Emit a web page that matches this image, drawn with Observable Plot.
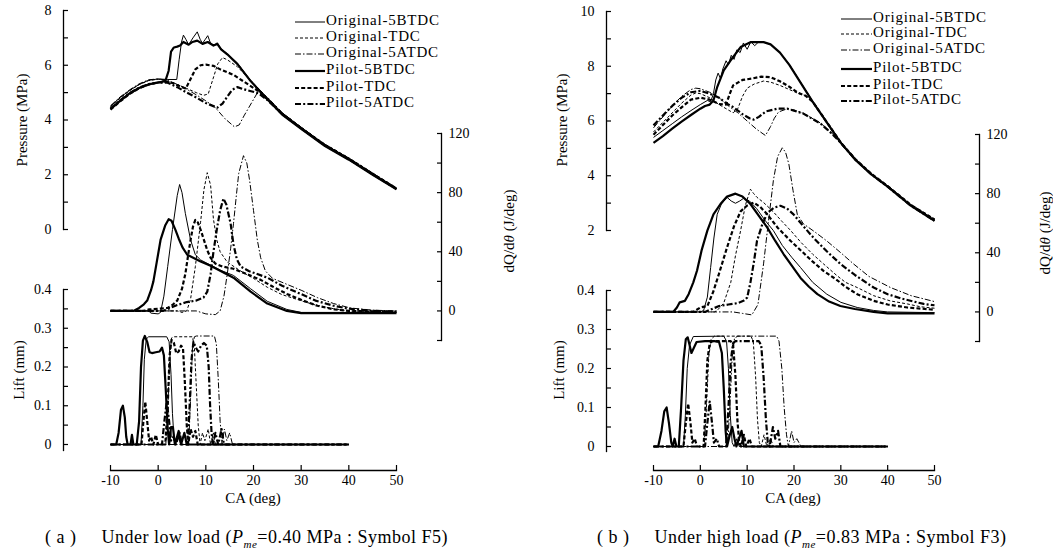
<!DOCTYPE html>
<html><head><meta charset="utf-8">
<script src="https://cdn.jsdelivr.net/npm/d3@7"></script>
<script src="https://cdn.jsdelivr.net/npm/@observablehq/plot@0.6"></script>
<style>
body{margin:0;background:#fff;}
#page{position:relative;width:1053px;height:551px;overflow:hidden;font-family:"Liberation Serif","DejaVu Serif",serif;color:#000;background:#fff;}
.lab{position:absolute;white-space:nowrap;font-size:15px;line-height:1;}
.rot{transform:translate(-50%,-50%) rotate(-90deg);}
.cen{transform:translate(-50%,-50%);}
.leg{position:absolute;font-size:15px;letter-spacing:0.8px;white-space:nowrap;line-height:1;}
.cap{position:absolute;font-size:18px;letter-spacing:0.5px;white-space:nowrap;line-height:1;}
</style></head><body><div id="page"></div>
<script>
// ---------- labels ----------
const seriesKeys = ["O5B","OT","O5A","P5B","PT","P5A"];
const seriesNames = ["Original-5BTDC","Original-TDC","Original-5ATDC","Pilot-5BTDC","Pilot-TDC","Pilot-5ATDC"];
const xTicks = [-10,0,10,20,30,40,50];

// ---------- panel (a) : pressure (MPa) ----------
const aP_O5B=[[-10,4.5],[-8,4.82],[-6,5.08],[-4,5.3],[-2,5.45],[0,5.5],[2,5.48],[3.9,5.48],[4.4,6.2],[4.9,6.85],[5.3,7.1],[5.8,6.95],[6.4,6.75],[7.3,7.0],[8.2,7.22],[8.8,6.95],[9.3,6.8],[9.9,6.95],[10.4,7.08],[11,6.8],[11.6,6.72],[12.4,6.82],[13.2,6.6],[14.5,6.42],[16.6,6.08],[19.4,5.45],[23,4.78],[26,4.25],[30,3.72],[35,3.1],[40,2.6],[45,2.05],[50,1.5]];
const aP_OT=[[-10,4.48],[-8,4.8],[-6,5.07],[-4,5.29],[-2,5.44],[0,5.49],[2,5.42],[4,5.3],[6,5.15],[8,5.0],[9.5,4.9],[10.5,4.95],[11.5,5.5],[12.5,6.05],[13.5,6.28],[14.5,6.2],[16.6,5.95],[19.4,5.45],[23,4.8],[26,4.27],[30,3.74],[35,3.12],[40,2.62],[45,2.07],[50,1.52]];
const aP_O5A=[[-10,4.52],[-8,4.84],[-6,5.1],[-4,5.32],[-2,5.47],[0,5.5],[2,5.45],[4,5.3],[6,5.12],[8,4.92],[10,4.7],[12,4.45],[14,4.05],[16,3.75],[17,3.82],[18,4.15],[19,4.45],[20,4.75],[21,5.05],[23,4.82],[26,4.27],[30,3.73],[35,3.1],[40,2.6],[45,2.05],[50,1.5]];
const aP_P5B=[[-10,4.4],[-8,4.7],[-6,4.97],[-4,5.17],[-2,5.3],[0,5.37],[1.5,5.42],[2.2,5.8],[2.7,6.5],[3.3,6.65],[4,6.68],[4.6,6.72],[5.3,6.85],[6.4,6.75],[7.2,6.85],[8.2,6.9],[9.3,6.78],[10.4,6.85],[11.6,6.72],[12.4,6.78],[13.2,6.58],[14.5,6.4],[16.6,6.05],[19.4,5.42],[23,4.74],[26,4.2],[30,3.68],[35,3.05],[40,2.55],[45,2.0],[50,1.47]];
const aP_PT=[[-10,4.38],[-8,4.68],[-6,4.95],[-4,5.16],[-2,5.3],[0,5.37],[1.5,5.4],[3,5.35],[5,5.2],[5.8,5.15],[6.8,5.5],[7.8,5.85],[8.9,6.0],[10,6.02],[11.6,5.98],[13,5.85],[15.8,5.65],[18,5.4],[21.5,5.0],[23,4.75],[26,4.23],[30,3.7],[35,3.08],[40,2.58],[45,2.03],[50,1.5]];
const aP_P5A=[[-10,4.42],[-8,4.72],[-6,4.98],[-4,5.18],[-2,5.31],[0,5.37],[2,5.36],[4,5.2],[6,5.0],[8,4.82],[10,4.62],[12.4,4.45],[13.5,4.6],[14.5,4.85],[15.5,5.1],[16.6,5.2],[18,5.12],[19.5,5.05],[21,4.98],[23,4.72],[26,4.22],[30,3.7],[35,3.07],[40,2.57],[45,2.02],[50,1.48]];

// ---------- panel (a) : dQ/dθ (J/deg) ----------
const aQ_O5B=[[-10,0],[-2,0],[-1.5,-1.5],[0,-2],[0.5,-1],[1.2,10],[2,30],[3,55],[4,78],[4.5,85.5],[5,80],[5.7,66],[6.8,48],[7.8,38],[8.9,34.5],[11,31],[13.1,27.5],[15.8,24],[19.4,15],[22.9,6.5],[27,1],[30,-1],[50,-1]];
const aQ_OT=[[-10,0],[4,0],[5,-1],[6,0],[6.8,8],[7.8,30],[8.9,60],[9.6,82],[10.3,93.5],[11,85],[11.6,62],[12.3,48],[13,40],[14.5,33],[17.3,27],[20,22],[22.9,16],[26,11],[29.9,7],[33,4],[36.8,1.5],[40,0],[50,-1]];
const aQ_O5A=[[-10,0],[8,0],[10,-2],[12,-2.5],[13,0],[13.8,10],[14.5,25],[15.2,42],[15.8,59],[16.4,78],[16.9,93],[17.9,105],[18.6,100],[19.2,88],[20,68],[20.8,48],[21.5,36],[22.5,27],[24,22],[27,18],[30,14],[33.4,9],[36.8,5],[40.3,2],[45,0.5],[50,0]];
const aQ_P5B=[[-10,0],[-5.2,0],[-4,2],[-3,4.5],[-2.3,7],[-1.5,14],[-1,20],[-0.3,33],[0.5,48],[1.5,58],[2.2,62],[2.8,61],[3.6,55],[4.3,49],[5.1,43],[6.1,38],[8.9,33.5],[11,30.5],[13.1,27],[15.8,22.5],[19.4,13],[22.9,5],[27,0],[30,-1.5],[50,-1.5]];
const aQ_PT=[[-10,0],[-3,0],[-2,1],[0,1.5],[2,2],[3,4],[4,7],[5,15],[5.7,25],[6.3,38],[6.8,48],[7.3,57],[7.8,61.5],[8.3,60],[8.9,55],[9.6,48],[10.3,41],[11,36],[12,32],[13.5,30],[15.8,28.5],[18.5,25],[21.5,21],[24,16.5],[27,11.5],[30,7.5],[33.4,3.5],[37,1],[40,0],[50,-0.5]];
const aQ_P5A=[[-10,0],[1,0],[2.5,2],[4,4],[6,6],[8,7],[9.5,9],[10.3,13],[11,25],[11.6,40],[12.3,55],[13,68],[13.7,76],[14.3,72],[15.2,59],[15.8,45],[16.5,35],[17.3,30],[19,27],[22.9,22.5],[26,17],[29.9,11.5],[33,7],[36.8,3.5],[40,1.5],[45,0],[50,-0.5]];

// ---------- panel (a) : needle lift (mm) ----------
const aL_O5B=[[-10,0],[-3.6,0],[-3.2,0.1],[-2.9,0.22],[-2.5,0.272],[-2,0.278],[1.8,0.278],[2.3,0.265],[2.7,0.18],[3,0.08],[3.3,0.02],[3.6,0],[4.2,0.02],[4.8,0],[40,0]];
const aL_OT=[[-10,0],[1.6,0],[2,0.08],[2.4,0.22],[2.8,0.275],[3.3,0.278],[7.2,0.278],[7.6,0.25],[8,0.15],[8.4,0.05],[8.8,0],[9.3,0.03],[9.8,0.01],[10.5,0.04],[11,0],[11.6,0.03],[12,0],[40,0]];
const aL_O5A=[[-10,0],[6.4,0],[6.8,0.12],[7.2,0.25],[7.6,0.278],[8,0.28],[11.8,0.28],[12.2,0.26],[12.6,0.17],[13,0.06],[13.4,0],[13.9,0.04],[14.4,0.01],[15,0.03],[15.6,0],[40,0]];
const aL_P5B=[[-10,0],[-8.8,0],[-8.3,0.03],[-7.8,0.09],[-7.4,0.1],[-7,0.07],[-6.7,0.02],[-6.4,0],[-5.8,0],[-5.5,0.025],[-5.2,0],[-4.5,0],[-4,0.06],[-3.6,0.2],[-3.2,0.268],[-2.8,0.28],[-2.3,0.265],[-1.8,0.238],[-1.3,0.236],[-0.5,0.238],[0.3,0.24],[0.8,0.25],[1.2,0.23],[1.6,0.14],[2,0.04],[2.3,0],[2.7,0.045],[3.1,0.045],[3.5,0],[4.3,0.035],[4.8,0],[5.5,0.03],[6,0],[40,0]];
const aL_PT=[[-10,0],[-3.5,0],[-3.1,0.06],[-2.7,0.11],[-2.3,0.06],[-1.9,0.01],[-1.5,0.02],[-1,0],[-0.5,0.025],[0,0],[1.5,0],[2,0.1],[2.4,0.23],[2.8,0.27],[3.3,0.262],[3.8,0.235],[4.3,0.24],[4.8,0.255],[5.2,0.25],[5.6,0.16],[6,0.05],[6.3,0],[6.8,0.04],[7.3,0.02],[7.8,0.035],[8.3,0],[40,0]];
const aL_P5A=[[-10,0],[0.8,0],[1.3,0.06],[1.8,0.11],[2.3,0.06],[2.7,0.01],[3.2,0.02],[3.7,0],[4.5,0.03],[5,0],[6.2,0],[6.6,0.1],[7,0.22],[7.4,0.265],[7.9,0.25],[8.4,0.24],[9,0.255],[9.6,0.262],[10.2,0.255],[10.6,0.2],[10.9,0.1],[11.2,0.03],[11.5,0],[12,0.03],[12.6,0],[13.3,0.04],[13.8,0],[40,0]];

// ---------- panel (b) : pressure (MPa) ----------
const bP_O5B=[[-10,5.4],[-8,5.65],[-6,5.9],[-4,6.15],[-2,6.38],[0,6.6],[1.5,6.75],[2.2,6.7],[2.8,7.0],[3.3,7.5],[3.8,7.75],[4.3,7.55],[4.8,7.9],[5.5,8.2],[6,8.05],[6.6,8.4],[7.2,8.25],[7.8,8.6],[8.5,8.5],[9.2,8.85],[10,8.62],[10.8,8.9],[11.6,8.75],[12.5,8.9],[13.5,8.88],[15,8.8],[17,8.5],[19,8.07],[21.4,7.42],[24,6.72],[27,5.97],[30,5.22],[33,4.62],[36.5,4.07],[40,3.62],[45,2.92],[50,2.38]];
const bP_OT=[[-10,5.6],[-8,5.95],[-6,6.3],[-4,6.65],[-2,6.95],[-1,7.02],[0,7.0],[2,6.85],[4,6.6],[6,6.4],[7,6.3],[8,6.45],[9,6.9],[10,7.2],[11.5,7.35],[13.5,7.46],[15,7.42],[17,7.3],[19,7.15],[21,7.0],[23,6.9],[24,6.72],[27,5.97],[30,5.22],[33,4.63],[36.5,4.08],[40,3.63],[45,2.95],[50,2.42]];
const bP_O5A=[[-10,5.75],[-8,6.15],[-6,6.55],[-4,6.9],[-2,7.15],[-1,7.2],[0,7.18],[2,7.05],[4,6.85],[6,6.55],[8,6.3],[10,6.0],[12,5.7],[13.9,5.47],[15,5.8],[15.8,6.1],[16.7,6.33],[18.6,6.45],[20,6.4],[22,6.28],[25.7,5.92],[28,5.57],[30,5.22],[33,4.62],[36.5,4.07],[40,3.62],[45,2.93],[50,2.4]];
const bP_P5B=[[-10,5.2],[-8,5.45],[-6,5.72],[-4,5.98],[-2,6.22],[0,6.45],[1,6.55],[2,6.6],[2.8,6.75],[3.6,7.24],[5,7.85],[6.4,8.2],[8.6,8.7],[10.7,8.88],[13.5,8.88],[15,8.8],[17,8.5],[19,8.05],[21.4,7.4],[24,6.7],[27,5.95],[30,5.2],[33,4.6],[36.5,4.05],[40,3.6],[45,2.9],[50,2.35]];
const bP_PT=[[-10,5.5],[-8,5.85],[-6,6.2],[-4,6.5],[-2,6.78],[0,6.85],[2,6.78],[4,6.62],[5.5,6.6],[6.3,7.0],[7,7.3],[8,7.4],[9,7.5],[11,7.55],[13,7.62],[15,7.6],[17,7.45],[19,7.25],[21,7.02],[22.5,6.92],[24,6.7],[27,5.96],[30,5.21],[33,4.62],[36.5,4.07],[40,3.62],[45,2.93],[50,2.4]];
const bP_P5A=[[-10,5.84],[-8,6.2],[-6,6.55],[-4,6.85],[-2,7.05],[0,7.1],[2,7.0],[4,6.85],[5.5,6.65],[7.1,6.5],[9,6.25],[10.5,6.1],[11.4,6.05],[12.5,6.15],[14,6.35],[16.5,6.45],[18.6,6.45],[20,6.38],[22,6.27],[25.7,5.9],[28,5.55],[30,5.2],[33,4.61],[36.5,4.06],[40,3.6],[45,2.9],[50,2.36]];

// ---------- panel (b) : dQ/dθ (J/deg) ----------
const bQ_O5B=[[-10,0],[0,0],[0.7,1],[1.5,10],[2.2,30],[2.9,50],[3.6,66],[4.5,73],[5.7,77.5],[6.6,75],[7.5,73.5],[8.4,75],[9.3,77],[10.5,75],[12,70],[13.8,62],[15.6,55],[17.5,45],[19.5,37],[21.4,30],[24,20],[27,12],[30,6.5],[33.5,3],[37,1],[40,0],[50,-0.5]];
const bQ_OT=[[-10,0],[3,0],[3.6,1],[5,6],[6.5,20],[7.5,38],[8.6,55],[9.6,72],[10.7,83],[11.4,80],[12.1,77.5],[13.5,74],[15.5,68],[17.5,61],[19.3,55],[21.5,47],[24,39],[26.3,32.5],[29,25],[31,20],[33.5,16.5],[37,11],[40.5,7.5],[44.2,5.4],[47,3.5],[50,2.5]];
const bQ_O5A=[[-10,0],[7,0],[9,-1],[11,-2],[12.3,5],[13.5,32.5],[14.5,60],[15.6,89],[16.5,105],[17.5,111],[18.2,108],[18.9,100],[19.8,82],[20.7,66],[22,59.6],[24.5,54],[27,48],[30,40],[32.7,32.5],[36,24],[40.6,16.5],[45,11],[50,7]];
const bQ_P5B=[[-10,0],[-5.8,0],[-5,3],[-4.4,6.5],[-3.3,7.5],[-2.5,12],[-1.5,20],[-0.7,28],[0.3,42],[1.5,55],[2.8,66],[4.3,73],[5.7,78],[7.5,80],[9,78],[10.7,73],[12.5,65],[14.3,57],[16,48],[17.8,39],[19.6,31],[21.4,23],[23.2,17],[25,12],[27.5,7],[29.9,4],[33,2],[37,0],[40,-1],[50,-1]];
const bQ_PT=[[-10,0],[-1.5,0],[0,3],[1.5,4],[2.8,14],[4,26],[5.7,43.6],[7.2,58],[8.6,68],[10,72],[11.4,74],[12.8,71],[14.3,66],[16.5,57],[19.3,48],[22,40],[24,34],[26.3,27.8],[29,22],[31,17],[33.5,12],[37,7.5],[40,5],[44.2,3],[50,1.5]];
const bQ_P5A=[[-10,0],[1,0],[2.5,2],[4,4],[6,5],[8,6],[9.2,7.5],[10,9.7],[10.7,20],[11.4,33],[12.1,48],[13.2,59],[14.3,67],[15.7,70.5],[17.1,71.8],[18.5,70],[19.9,66],[22,58],[24.2,50],[27,41],[29.9,32.5],[33,25],[37,16.5],[40,12],[43,9],[47.7,5.4],[50,4.5]];

// ---------- panel (b) : needle lift (mm) ----------
const bL_O5B=[[-10,0],[-3.6,0],[-3.2,0.08],[-2.8,0.2],[-2.3,0.26],[-1.5,0.282],[5,0.283],[5.6,0.27],[6,0.2],[6.4,0.08],[6.8,0.01],[7.2,0],[7.8,0.02],[8.3,0],[40,0]];
const bL_OT=[[-10,0],[0.8,0],[1.3,0.1],[1.8,0.23],[2.3,0.275],[3,0.283],[10.8,0.283],[11.3,0.27],[11.8,0.18],[12.2,0.07],[12.6,0.01],[13,0],[13.6,0.03],[14.2,0],[15,0.02],[15.6,0],[40,0]];
const bL_O5A=[[-10,0],[5.8,0],[6.3,0.1],[6.8,0.23],[7.3,0.278],[8,0.283],[16.3,0.283],[16.8,0.27],[17.4,0.2],[17.9,0.1],[18.4,0.03],[18.8,0],[19.5,0.04],[20,0.01],[20.6,0.02],[21.5,0],[40,0]];
const bL_P5B=[[-10,0],[-9,0],[-8.3,0.04],[-7.7,0.09],[-7.2,0.1],[-6.7,0.06],[-6.2,0.01],[-5.9,0],[-5.5,0.02],[-5.1,0],[-4.6,0],[-4.1,0.1],[-3.6,0.22],[-3.1,0.275],[-2.7,0.28],[-2.3,0.26],[-1.9,0.24],[-1.5,0.25],[-0.8,0.268],[1,0.27],[3,0.27],[4,0.268],[4.6,0.24],[5,0.15],[5.4,0.04],[5.7,0],[6.3,0.03],[6.8,0.05],[7.3,0.02],[7.7,0],[8.8,0.04],[9.3,0],[40,0]];
const bL_PT=[[-10,0],[-3.6,0],[-3.1,0.06],[-2.6,0.11],[-2.1,0.06],[-1.7,0.01],[-1.2,0.02],[-0.7,0],[0.7,0],[1.1,0.1],[1.5,0.22],[2,0.265],[2.6,0.27],[6.5,0.27],[7,0.26],[7.5,0.18],[7.9,0.07],[8.3,0.01],[8.7,0],[9.3,0.03],[9.8,0],[10.5,0.02],[11,0],[40,0]];
const bL_P5A=[[-10,0],[1,0],[1.5,0.06],[2,0.115],[2.5,0.06],[2.9,0.01],[3.5,0.02],[4,0],[5.5,0],[6,0.1],[6.5,0.22],[7,0.265],[7.5,0.27],[12.5,0.27],[13,0.26],[13.5,0.18],[14,0.07],[14.4,0.01],[14.8,0],[15.5,0.05],[16,0.02],[16.6,0.04],[17.1,0],[40,0]];

// ---------- assemble ----------
const panelA = {
  P:{O5B:aP_O5B,OT:aP_OT,O5A:aP_O5A,P5B:aP_P5B,PT:aP_PT,P5A:aP_P5A},
  Q:{O5B:aQ_O5B,OT:aQ_OT,O5A:aQ_O5A,P5B:aQ_P5B,PT:aQ_PT,P5A:aQ_P5A},
  L:{O5B:aL_O5B,OT:aL_OT,O5A:aL_O5A,P5B:aL_P5B,PT:aL_PT,P5A:aL_P5A}
};
const panelB = {
  P:{O5B:bP_O5B,OT:bP_OT,O5A:bP_O5A,P5B:bP_P5B,PT:bP_PT,P5A:bP_P5A},
  Q:{O5B:bQ_O5B,OT:bQ_OT,O5A:bQ_O5A,P5B:bQ_P5B,PT:bQ_PT,P5A:bQ_P5A},
  L:{O5B:bL_O5B,OT:bL_OT,O5A:bL_O5A,P5B:bL_P5B,PT:bL_PT,P5A:bL_P5A}
};

// line styles (kept apart from the data)
const sty = {
  O5B:{w:1.0, dash:null},
  OT:{w:1.0, dash:"3,2"},
  O5A:{w:1.0, dash:"6,2,1.5,2"},
  P5B:{w:2.2, dash:null},
  PT:{w:2.2, dash:"4,2.2"},
  P5A:{w:2.2, dash:"6,2.2,2,2.2"}
};

const W = 1053, H = 551;
const page = document.getElementById("page");
const FONT = '"Liberation Serif","DejaVu Serif",serif';

function overlay(opts){
  const svg = Plot.plot({width:W, height:H, ...opts,
    style:{background:"transparent", overflow:"visible", fontFamily:FONT, fontSize:"14px", color:"#000"}});
  svg.style.position="absolute"; svg.style.left="0px"; svg.style.top="0px";
  page.appendChild(svg);
}
function curves(group){
  return seriesKeys.map(k => Plot.line(group[k], Object.assign(
    {x:d=>d[0], y:d=>d[1], stroke:"#000", strokeWidth:sty[k].w, strokeLinejoin:"round", strokeLinecap:"butt", curve:"linear"},
    sty[k].dash ? {strokeDasharray:sty[k].dash} : {})));
}
function addLabel(cls, html, x, y, extra){
  const d=document.createElement("div"); d.className=cls; d.innerHTML=html;
  d.style.left=x+"px"; d.style.top=y+"px"; if(extra) Object.assign(d.style, extra);
  page.appendChild(d); return d;
}

function drawPanel(cfg, data){
  const xs = {domain:[-10,50], range:cfg.xr, axis:null};
  // pressure
  overlay({
    marginLeft:cfg.pAx, marginRight:W-cfg.qAx, marginTop:cfg.pTop, marginBottom:H-cfg.pBot,
    x:xs, y:{domain:cfg.pDom},
    marks:[
      Plot.frame({anchor:"left", stroke:"#000", strokeWidth:1.3}),
      Plot.axisY({anchor:"left", ticks:d3.range(cfg.pDom[0], cfg.pDom[1]+0.01, 1), tickSize:-5, tickFormat:()=>"", label:null, strokeWidth:1.2}),
      Plot.axisY({anchor:"left", ticks:d3.range(cfg.pDom[0], cfg.pDom[1]+0.01, 2), tickSize:0, tickPadding:12, tickFormat:d=>String(d), label:null}),
      ...curves(data.P)
    ]
  });
  // heat release rate
  overlay({
    marginLeft:cfg.pAx, marginRight:W-cfg.qAx, marginTop:cfg.qTop, marginBottom:H-cfg.qBot,
    x:xs, y:{domain:[-20,120]},
    marks:[
      Plot.frame({anchor:"right", stroke:"#000", strokeWidth:1.3}),
      Plot.axisY({anchor:"right", ticks:d3.range(-20,121,20), tickSize:-5, tickFormat:()=>"", label:null, strokeWidth:1.2}),
      Plot.axisY({anchor:"right", ticks:[0,40,80,120], tickSize:0, tickPadding:7, tickFormat:d=>String(d), label:null}),
      ...curves(data.Q)
    ]
  });
  // needle lift
  overlay({
    marginLeft:cfg.pAx, marginRight:W-cfg.qAx, marginTop:cfg.lTop, marginBottom:H-cfg.lAxBot,
    x:xs, y:{domain:[0,0.4], range:[cfg.lZero, cfg.lTop]},
    marks:[
      Plot.frame({anchor:"left", stroke:"#000", strokeWidth:1.3}),
      Plot.axisY({anchor:"left", ticks:d3.range(0,0.401,0.05), tickSize:-5, tickFormat:()=>"", label:null, strokeWidth:1.2}),
      Plot.axisY({anchor:"left", ticks:[0,0.1,0.2,0.3,0.4], tickSize:0, tickPadding:12, tickFormat:d=> d===0?"0":d3.format(".1f")(d), label:null}),
      ...curves(data.L)
    ]
  });
  // crank angle axis
  overlay({
    marginLeft:cfg.xr[0], marginRight:W-cfg.xr[1], marginTop:cfg.xAxY-30, marginBottom:H-cfg.xAxY,
    x:{domain:[-10,50]},
    marks:[
      Plot.frame({anchor:"bottom", stroke:"#000", strokeWidth:1.3}),
      Plot.axisX({anchor:"bottom", ticks:xTicks, tickSize:-5, tickFormat:()=>"", label:null, strokeWidth:1.2}),
      Plot.axisX({anchor:"bottom", ticks:xTicks, tickSize:0, tickPadding:5, tickFormat:d=>String(d), label:null})
    ]
  });
  // axis titles
  addLabel("lab rot", "Pressure (MPa)", cfg.pLab[0], cfg.pLab[1]);
  addLabel("lab rot", "Lift (mm)", cfg.lLab[0], cfg.lLab[1]);
  addLabel("lab rot", "dQ/d<i>θ</i> (J/deg)", cfg.qLab[0], cfg.qLab[1]);
  addLabel("lab cen", "CA (deg)", cfg.cLab[0], cfg.cLab[1]);
  // legend
  seriesKeys.forEach((k,i)=>{
    const y = cfg.legY[i];
    const len = cfg.legX[1]-cfg.legX[0];
    const dash = sty[k].dash ? ` stroke-dasharray="${sty[k].dash}"` : "";
    addLabel("leg", `<svg width="${len}" height="6" style="vertical-align:middle;margin-right:1px;overflow:visible"><line x1="0" x2="${len}" y1="3" y2="3" stroke="#000" stroke-width="${sty[k].w}"${dash}/></svg>${seriesNames[i]}`, cfg.legX[0], y-8);
  });
  // caption
  addLabel("cap", cfg.caption, cfg.capX, cfg.capY);
}

drawPanel({
  xr:[110,396], pAx:63, qAx:441, pTop:10, pBot:229, pDom:[0,8],
  qTop:133, qBot:340, lTop:289, lZero:444, lAxBot:450, xAxY:470,
  pLab:[22,120], lLab:[19,370], qLab:[509,231], cLab:[253,498],
  legX:[295,325], legY:[21,37,53,70,87,103],
  caption:'( a )&nbsp;&nbsp;&nbsp;&nbsp; Under low load (<i>P</i><sub style="font-size:11px;font-style:italic">me</sub>=0.40 MPa : Symbol F5)',
  capX:45, capY:528
}, panelA);

drawPanel({
  xr:[653,934], pAx:606, qAx:979, pTop:11, pBot:230, pDom:[2,10],
  qTop:134, qBot:341, lTop:290, lZero:446, lAxBot:451, xAxY:470,
  pLab:[562,120], lLab:[559,370], qLab:[1045,233], cLab:[793,498],
  legX:[841,872], legY:[18,33,49,68,85,100],
  caption:'( b )&nbsp;&nbsp;&nbsp;&nbsp; Under high load (<i>P</i><sub style="font-size:11px;font-style:italic">me</sub>=0.83 MPa : Symbol F3)',
  capX:597, capY:528
}, panelB);
</script>
</body></html>
